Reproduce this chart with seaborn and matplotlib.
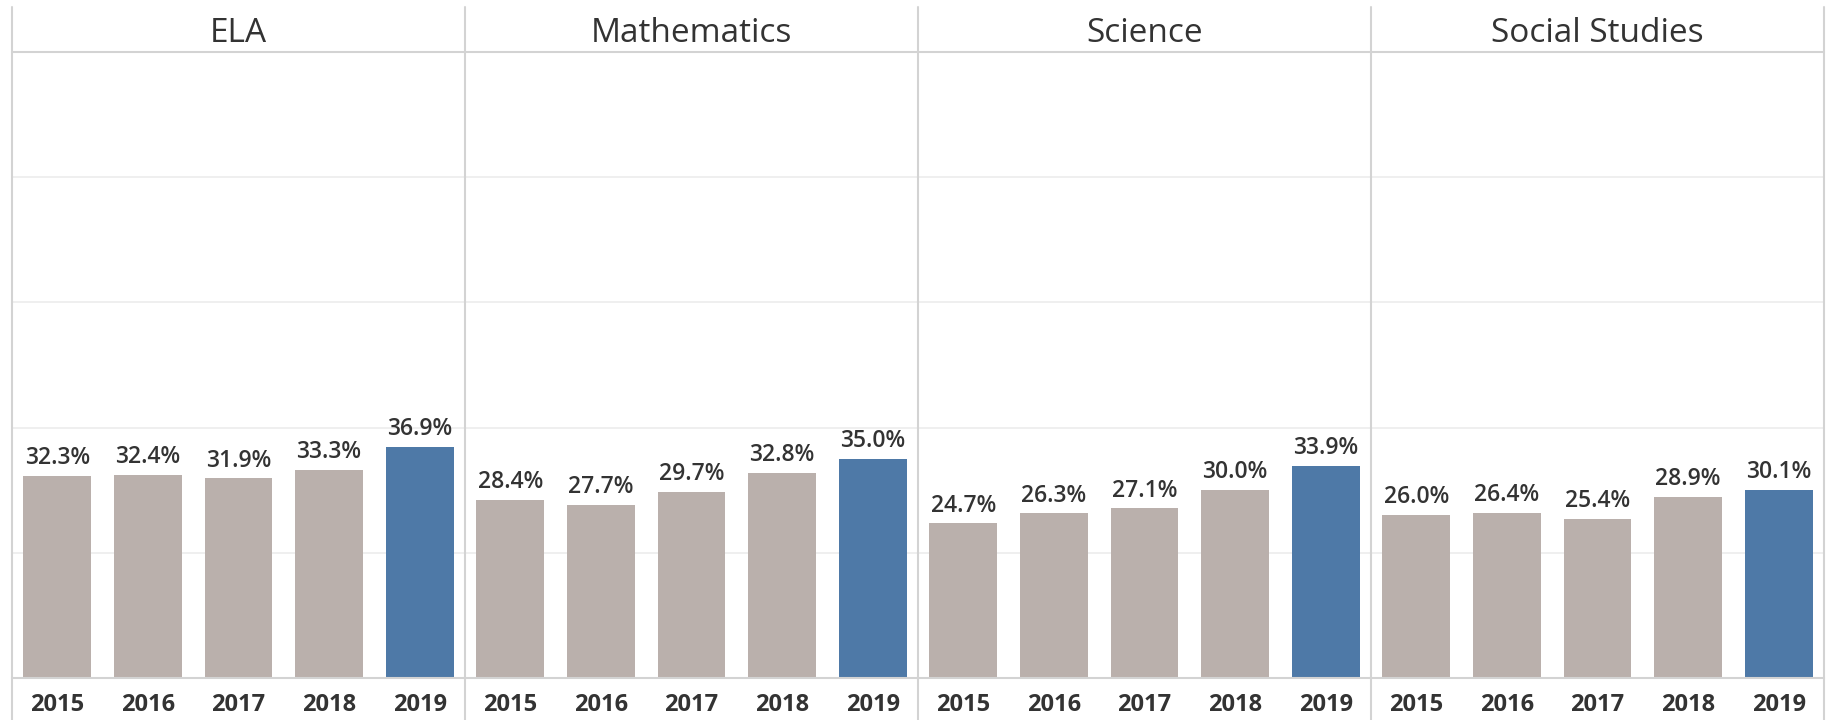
import numpy as np
import pandas as pd
import matplotlib
matplotlib.use('Agg')
import matplotlib.pyplot as plt
from matplotlib.lines import Line2D
from matplotlib.ticker import FixedLocator
import seaborn as sns

# --- Data ---
SUBJECTS = ['ELA', 'Mathematics', 'Science', 'Social Studies']
YEARS = ['2015', '2016', '2017', '2018', '2019']
ela = [32.3, 32.4, 31.9, 33.3, 36.9]
math = [28.4, 27.7, 29.7, 32.8, 35.0]
science = [24.7, 26.3, 27.1, 30.0, 33.9]
social = [26.0, 26.4, 25.4, 28.9, 30.1]

# --- Style ---
GREY = '#BAB0AC'
BLUE = '#4E79A7'
TEXT = '#333333'
BORDER = '#d3d3d3'
GRID = '#ececec'
PALETTE = {y: GREY for y in YEARS}
PALETTE['2019'] = BLUE

W, H = 1827, 720
LEFT, PANEL_W = 12, 453
BASE_Y, TOP_Y, HEAD_TOP = 678, 52, 7

sns.set_theme(style='white')
plt.rcParams['font.family'] = ['Open Sans', 'DejaVu Sans']

rows = []
for subj, vals in zip(SUBJECTS, [ela, math, science, social]):
    for yr, v in zip(YEARS, vals):
        rows.append({'subject': subj, 'year': yr, 'pct': v})
df = pd.DataFrame(rows)

fig = plt.figure(figsize=(W / 100, H / 100), dpi=100)

for i, subj in enumerate(SUBJECTS):
    ax = fig.add_axes([(LEFT + i * PANEL_W) / W, (H - BASE_Y) / H,
                       PANEL_W / W, (BASE_Y - TOP_Y) / H])
    sub = df[df['subject'] == subj]
    sns.barplot(data=sub, x='year', y='pct', hue='year', palette=PALETTE,
                order=YEARS, hue_order=YEARS, width=0.75, legend=False,
                saturation=1, edgecolor='none', ax=ax)
    ax.set_ylim(0, 100)
    ax.set_xlim(-0.5, len(YEARS) - 0.5)
    ax.set_yticks([20, 40, 60, 80])
    ax.yaxis.grid(True, color=GRID, linewidth=1.2)
    ax.set_axisbelow(True)
    ax.set_xlabel('')
    ax.set_ylabel('')
    ax.tick_params(axis='y', left=False, labelleft=False)
    ax.tick_params(axis='x', which='major', length=0, pad=10.5,
                   labelsize=17, labelcolor=TEXT)
    for lab in ax.get_xticklabels():
        lab.set_fontweight('bold')
    ax.xaxis.set_minor_locator(FixedLocator([0.5, 1.5, 2.5, 3.5]))
    ax.tick_params(axis='x', which='minor', length=7, width=1, color='#e8e8e8')
    for s in ['top', 'left', 'right']:
        ax.spines[s].set_visible(False)
    ax.spines['bottom'].set_color(BORDER)
    ax.spines['bottom'].set_linewidth(1.5)

    for bar, v in zip(ax.patches, sub['pct']):
        ax.annotate(f'{v:.1f}%', (bar.get_x() + bar.get_width() / 2, bar.get_height()),
                    xytext=(0, 8.5), textcoords='offset points', ha='center',
                    va='baseline', fontsize=16.5, fontweight='semibold', color=TEXT)

    # panel header
    fig.text((LEFT + i * PANEL_W + PANEL_W / 2) / W, 1 - 34 / H, subj,
             ha='center', va='center', fontsize=24, color=TEXT)

# panel borders and header line
for i in range(len(SUBJECTS) + 1):
    x = (LEFT + i * PANEL_W) / W
    fig.add_artist(Line2D([x, x], [0, 1 - HEAD_TOP / H], color=BORDER, linewidth=1.5))
fig.add_artist(Line2D([LEFT / W, (LEFT + 4 * PANEL_W) / W], [1 - TOP_Y / H] * 2,
                      color=BORDER, linewidth=1.5))

fig.savefig('out.png', dpi=100, facecolor='white')
